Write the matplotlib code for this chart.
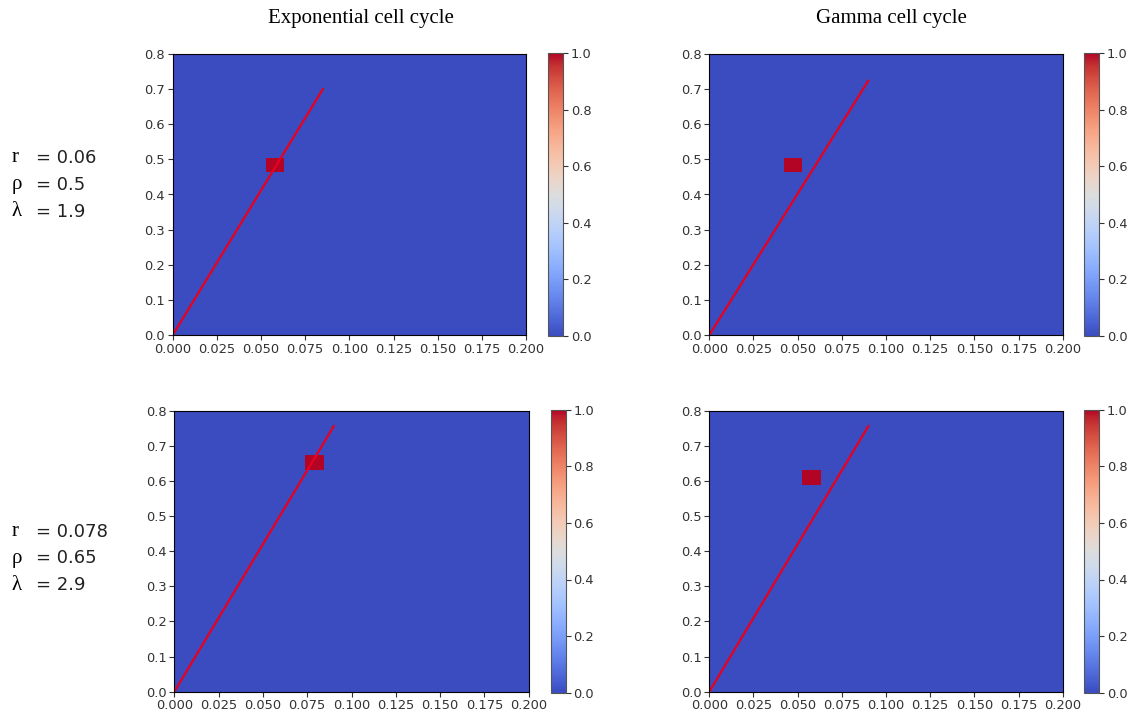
import numpy as np
import matplotlib.pyplot as plt

# parameter grid (cell edges) used for every panel
r_edges = np.linspace(0, 0.2, 20)
rho_edges = np.linspace(0, 0.8, 20)

titles = ["Exponential cell cycle", "Gamma cell cycle"]
row_r = ["0.06", "0.078"]
row_rho = ["0.5", "0.65"]
row_lam = ["1.9", "2.9"]

# (r index, rho index) of the cell that lights up, per panel
hot_cells = [(5, 11), (4, 11), (7, 15), (5, 14)]

# red boundary curve for each panel
curve_r = [[0.0, 0.085], [0.0, 0.090], [0.0, 0.090], [0.0, 0.090]]
curve_rho = [[0.0, 0.700], [0.0, 0.724], [0.0, 0.756], [0.0, 0.756]]

W, H = 1135, 716
fig = plt.figure(figsize=(W / 100, H / 100), dpi=100)
plt.rcParams['font.size'] = 9.4

# axes boxes in pixels: left, top, right, bottom
ax_px = [(172.7, 54, 526, 335), (709.3, 54, 1062.7, 335),
         (174.3, 410.7, 528.7, 691.7), (709.3, 410.7, 1062.7, 691.7)]
cb_px = [(548, 563), (1084.3, 1099.3), (550.7, 565.7), (1084.3, 1099.3)]


def frac(l, t, r, b):
    return [l / W, 1 - b / H, (r - l) / W, (b - t) / H]


for k in range(4):
    l, t, r, b = ax_px[k]
    ax = fig.add_axes(frac(l, t, r, b))
    z = np.zeros((len(rho_edges) - 1, len(r_edges) - 1))
    ir, irho = hot_cells[k]
    z[irho, ir] = 1.0
    mesh = ax.pcolormesh(r_edges, rho_edges, z, cmap='coolwarm', vmin=0, vmax=1)
    ax.plot(curve_r[k], curve_rho[k], color='#e8001c', lw=1.6)
    ax.set_xlim(0, 0.2)
    ax.set_ylim(0, 0.8)
    ax.set_xticks(np.arange(0, 0.2001, 0.025))
    ax.set_yticks(np.arange(0, 0.801, 0.1))
    ax.xaxis.set_major_formatter(plt.FormatStrFormatter('%.3f'))
    ax.yaxis.set_major_formatter(plt.FormatStrFormatter('%.1f'))
    ax.tick_params(length=3.5, pad=2, colors='#333333')

    c0, c1 = cb_px[k]
    cax = fig.add_axes(frac(c0, t - 1, c1, b + 1))
    cb = fig.colorbar(mesh, cax=cax)
    cb.set_ticks([0, 0.2, 0.4, 0.6, 0.8, 1.0])
    cb.ax.yaxis.set_major_formatter(plt.FormatStrFormatter('%.1f'))
    cb.ax.tick_params(length=3.5, pad=2, colors='#333333')
    cb.outline.set_edgecolor('#555555')

# column titles
fig.text(361 / W, 1 - 18 / H, titles[0], ha='center', va='center',
         family='Liberation Serif', fontsize=15)
fig.text(891 / W, 1 - 18 / H, titles[1], ha='center', va='center',
         family='Liberation Serif', fontsize=15)

# row parameter labels
row_y = [[158, 185, 212], [532, 558, 585]]
for i in range(2):
    for sym, val, y in zip(["r", "ρ", "λ"], [row_r[i], row_rho[i], row_lam[i]], row_y[i]):
        fig.text(12 / W, 1 - y / H, sym, ha='left', va='center',
                 family='Liberation Serif', fontsize=15)
        fig.text(36 / W, 1 - y / H, "= " + val, ha='left', va='center',
                 family='DejaVu Sans', fontsize=13, color='#222222')

fig.savefig('out.png', dpi=100)
